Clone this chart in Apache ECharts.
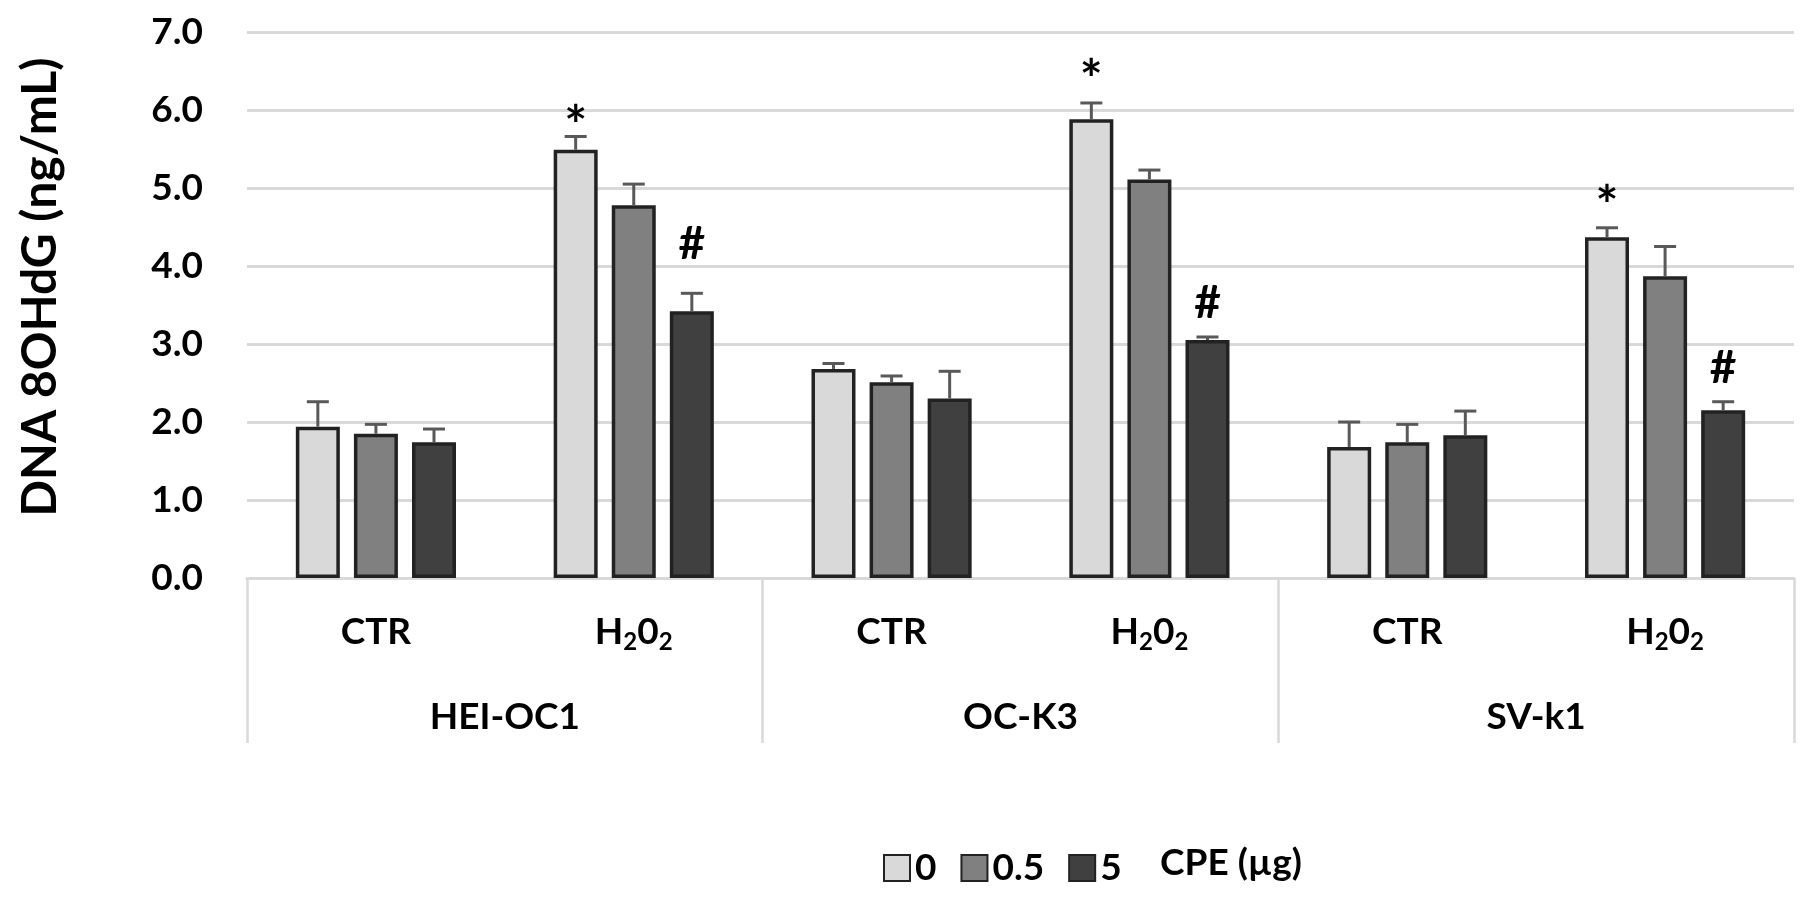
<!DOCTYPE html>
<html>
<head>
<meta charset="utf-8">
<script src="https://cdn.jsdelivr.net/npm/echarts@6/dist/echarts.min.js"></script>
<style>
html,body{margin:0;padding:0;background:#fff;}
#chart{width:1810px;height:904px;}
</style>
</head>
<body>
<div id="chart"></div>
<script>
const categories = ['CTR', 'H2O2', 'CTR', 'H2O2', 'CTR', 'H2O2'];
const cellLines = ['HEI-OC1', 'OC-K3', 'SV-k1'];
const seriesNames = ['0', '0.5', '5'];
const values0  = [1.94, 5.49, 2.68, 5.88, 1.68, 4.37];
const values05 = [1.85, 4.78, 2.51, 5.11, 1.74, 3.87];
const values5  = [1.74, 3.42, 2.30, 3.05, 1.83, 2.15];
const err0  = [0.32, 0.17, 0.07, 0.21, 0.32, 0.12];
const err05 = [0.12, 0.27, 0.08, 0.12, 0.23, 0.38];
const err5  = [0.17, 0.23, 0.35, 0.04, 0.31, 0.11];
// [category index, series index, mark, height in data units]
const sigLabels = [
  [1, 0, '*', 5.95], [1, 2, '#', 4.28],
  [3, 0, '*', 6.54], [3, 2, '#', 3.52],
  [5, 0, '*', 4.93], [5, 2, '#', 2.69]
];
const yTicks = [0, 1, 2, 3, 4, 5, 6, 7];

const FONT = 'Lato';
const fills = ['#d9d9d9', '#808080', '#404040'];
const allValues = [values0, values05, values5];
const allErr = [err0, err05, err5];
const BW = 44, GAP = 0.32;
const step = BW * (1 + GAP);
const offsets = [-step, 0, step];

const chart = echarts.init(document.getElementById('chart'));

const barSeries = seriesNames.map((name, s) => ({
  name: name,
  type: 'bar',
  xAxisIndex: 0,
  barWidth: BW,
  barGap: (GAP * 100) + '%',
  data: allValues[s],
  itemStyle: { color: fills[s], borderColor: '#222222', borderWidth: 3.5 },
  z: 2
}));

const errSeries = seriesNames.map((name, s) => ({
  name: 'err' + name,
  type: 'custom',
  xAxisIndex: 0,
  z: 3,
  data: allValues[s].map((v, i) => [i, v, allErr[s][i]]),
  renderItem: function (params, api) {
    const c = api.value(0), v = api.value(1), e = api.value(2);
    const b = api.coord([c, v]);
    const t = api.coord([c, v + e]);
    const x = b[0] + offsets[s];
    const st = { stroke: '#595959', lineWidth: 3 };
    return {
      type: 'group',
      children: [
        { type: 'line', shape: { x1: x, y1: b[1], x2: x, y2: t[1] }, style: st },
        { type: 'line', shape: { x1: x - 11, y1: t[1], x2: x + 11, y2: t[1] }, style: st }
      ]
    };
  }
}));

const sigSeries = {
  name: 'sig',
  type: 'custom',
  xAxisIndex: 0,
  z: 4,
  data: sigLabels.map(d => [d[0], d[3], d[1]]),
  renderItem: function (params, api) {
    const d = sigLabels[params.dataIndex];
    const p = api.coord([api.value(0), api.value(1)]);
    const x = p[0] + offsets[d[1]];
    const isStar = d[2] === '*';
    return {
      type: 'text',
      x: x,
      y: p[1] + (isStar ? 13 : 0),
      style: {
        text: d[2],
        fontFamily: FONT,
        fontWeight: 'bold',
        fontSize: isStar ? 54 : 46,
        fill: '#000',
        align: 'center',
        verticalAlign: 'middle'
      }
    };
  }
};

const option = {
  animation: false,
  backgroundColor: '#fff',
  grid: { left: 247, right: 16, top: 32, bottom: 326, containLabel: false },
  legend: {
    data: seriesNames,
    left: 878,
    top: 843,
    icon: 'rect',
    itemWidth: 26,
    itemHeight: 26,
    itemGap: 24,
    textStyle: { fontFamily: FONT, fontWeight: 'bold', fontSize: 37, color: '#000', lineHeight: 40 }
  },
  xAxis: [
    {
      type: 'category',
      data: categories,
      position: 'bottom',
      axisLine: { show: true, lineStyle: { color: '#d9d9d9', width: 3 } },
      axisTick: { show: false },
      splitLine: { show: false },
      axisLabel: {
        margin: 32,
        interval: 0,
        formatter: function (v) {
          return v === 'H2O2' ? '{a|H}{s|2}{a|0}{s|2}' : '{a|' + v + '}';
        },
        rich: {
          a: { fontFamily: FONT, fontWeight: 'bold', fontSize: 37, color: '#000', lineHeight: 44, verticalAlign: 'middle' },
          s: { fontFamily: FONT, fontWeight: 'bold', fontSize: 24, color: '#000', lineHeight: 24, verticalAlign: 'bottom' }
        }
      }
    },
    {
      type: 'category',
      data: cellLines,
      position: 'bottom',
      axisLine: { show: false },
      axisTick: { show: true, length: 165, lineStyle: { color: '#d9d9d9', width: 2.5 } },
      splitLine: { show: false },
      axisLabel: {
        margin: 119,
        interval: 0,
        fontFamily: FONT, fontWeight: 'bold', fontSize: 37, color: '#000', lineHeight: 40
      }
    }
  ],
  yAxis: {
    type: 'value',
    min: yTicks[0],
    max: yTicks[yTicks.length - 1],
    interval: 1,
    axisLine: { show: false },
    axisTick: { show: false },
    splitLine: { lineStyle: { color: '#d9d9d9', width: 3 } },
    axisLabel: {
      formatter: v => v.toFixed(1),
      fontFamily: FONT, fontWeight: 'bold', fontSize: 37, color: '#000', margin: 44
    },
    name: 'DNA 8OHdG (ng/mL)',
    nameLocation: 'middle',
    nameRotate: 90,
    nameGap: 182,
    nameTextStyle: { fontFamily: FONT, fontWeight: 'bold', fontSize: 48, color: '#000', padding: [0, 0, 0, 36] }
  },
  graphic: [
    {
      type: 'text',
      left: 1160,
      top: 843,
      style: { text: 'CPE (µg)', fontFamily: FONT, fontWeight: 'bold', fontSize: 37, fill: '#000', lineHeight: 40 }
    }
  ],
  series: barSeries.concat(errSeries, [sigSeries])
};

chart.setOption(option);
</script>
</body>
</html>
